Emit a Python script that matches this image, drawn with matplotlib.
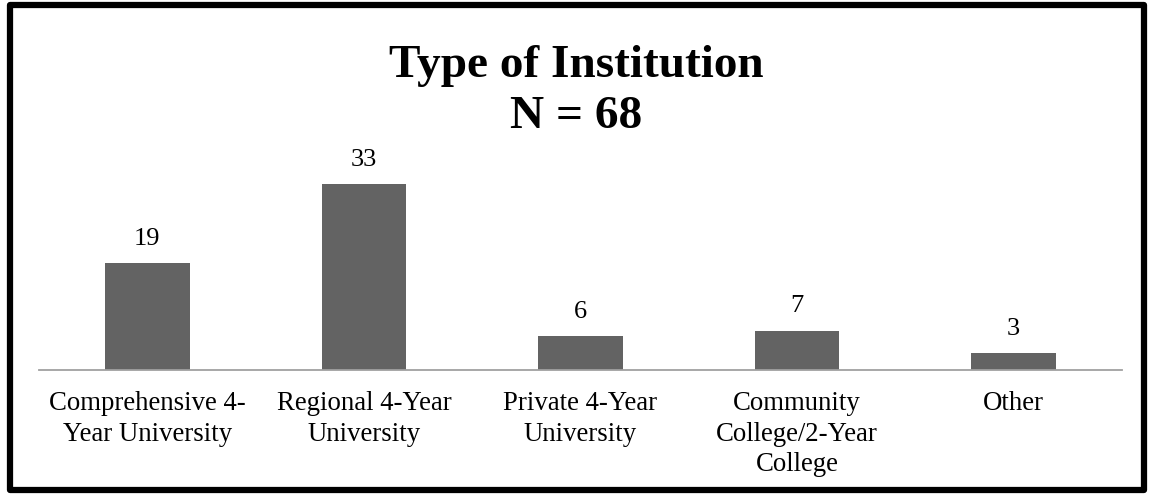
import matplotlib
matplotlib.use("Agg")
import matplotlib.pyplot as plt
from matplotlib.patches import Rectangle

# data
categories = ["Comprehensive 4-\nYear University", "Regional 4-Year\nUniversity",
              "Private 4-Year\nUniversity", "Community\nCollege/2-Year\nCollege", "Other"]
counts = [19, 33, 6, 7, 3]
title = "Type of Institution\nN = 68"

plt.rcParams["font.family"] = ["Liberation Serif", "DejaVu Serif"]

fig = plt.figure(figsize=(11.52, 4.96), dpi=100)
ax = fig.add_axes([0.0339, 0.254, 0.940, 0.398])

x = range(len(categories))
bars = ax.bar(x, counts, width=0.39, color="#636363")
ax.set_xlim(-0.5, len(categories) - 0.5)
ax.set_ylim(0, 35)

# value labels
for b, v in zip(bars, counts):
    ax.annotate(str(v), (b.get_x() + b.get_width() / 2, v), xytext=(0, 13),
                textcoords="offset points", ha="center", va="baseline",
                fontsize=19, annotation_clip=False)

ax.set_xticks(list(x))
ax.set_xticklabels(categories, fontsize=19.3, linespacing=1.3)
ax.tick_params(axis="x", length=0, pad=15)
ax.set_yticks([])
for s in ["top", "right", "left"]:
    ax.spines[s].set_visible(False)
ax.spines["bottom"].set_color("#a0a0a0")
ax.spines["bottom"].set_linewidth(1.3)

fig.text(0.5, 1 - 128 / 496, title, ha="center", va="baseline", fontsize=34,
         fontweight="bold", linespacing=1.28)

# outer border
fig.patches.append(Rectangle((0.009, 0.013), 0.984, 0.976, transform=fig.transFigure,
                             fill=False, edgecolor="black", linewidth=4.5,
                             joinstyle="round"))

fig.savefig("out.png", dpi=100)
